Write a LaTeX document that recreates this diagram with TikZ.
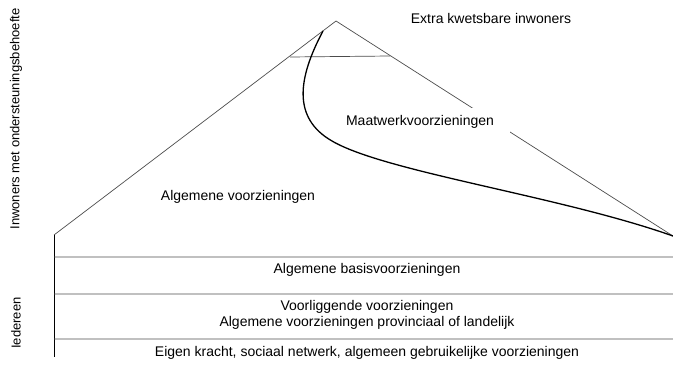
\documentclass[tikz,border=0pt]{standalone}
\usepackage{fontspec}
\setmainfont{Liberation Sans}
\usetikzlibrary{positioning}

\begin{document}
\begin{tikzpicture}[x=1pt, y=-1pt,
             lbl/.style = {font=\fontsize{14}{16.5}\selectfont, inner sep=0pt, align=center},
            side/.style = {lbl, font=\fontsize{13}{15}\selectfont, rotate=90},
            thin/.style = {draw=black!70, line width=0.7pt},
]
\useasboundingbox (0,0) rectangle (673,385);
% outline
\coordinate (top)   at (336,21);
\coordinate (lft)   at (54,235);
\coordinate (rgt)   at (673,236);
\coordinate (foot)  at (54,357);
\path[thin] (lft) -- (top) -- (rgt);
\path[draw, line width=0.8pt] (lft) -- (foot);
\path[thin] (54,257) -- (673,257)
            (54,294) -- (673,294)
            (54,339) -- (673,339)
            (290,57) -- (390,56);
%% grens maatwerk
\path[draw, line width=1.3pt] (323,31) .. controls (298,78) and (292,118) .. (332,141)
                                 .. controls (385,172) and (560,196) .. (rgt);
% teksten
\node [lbl]                                   (extra)  at (491,18)  {Extra kwetsbare inwoners};
\node [lbl, fill=white, inner xsep=16pt, inner ysep=7pt] (maat) at (420,122) {Maatwerkvoorzieningen};
\node [lbl]                                   (alg)    at (238,197) {Algemene voorzieningen};
\node [lbl]                                   (basis)  at (367,270) {Algemene basisvoorzieningen};
\node [lbl]                                   (voor)   at (367,315) {Voorliggende voorzieningen\\Algemene voorzieningen provinciaal of landelijk};
\node [lbl]                                   (eigen)  at (367,353) {Eigen kracht, sociaal netwerk, algemeen gebruikelijke voorzieningen};
\node [side]                                  (inw)    at (16,119)  {Inwoners met ondersteuningsbehoefte};
\node [side]                                  (ieder)  at (16,323)  {Iedereen};
\end{tikzpicture}
\end{document}
